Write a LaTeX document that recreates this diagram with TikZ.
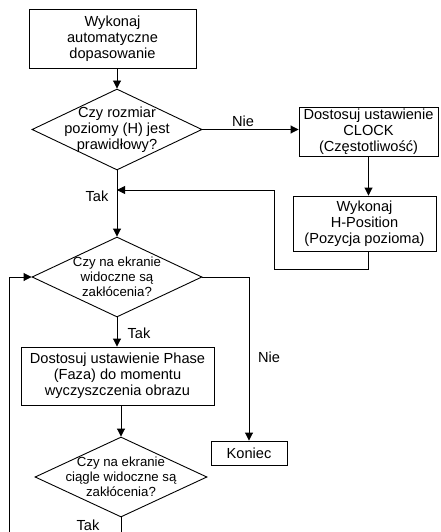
\documentclass[tikz,border=0pt]{standalone}
\usepackage{fontspec}
\setmainfont{Liberation Sans}
\usetikzlibrary{shapes.geometric,arrows.meta}
\begin{document}
\begin{tikzpicture}[x=1pt,y=-1pt,
  line width=0.9pt,
  bigfont/.style={font=\fontsize{14.6}{15.8}\selectfont},
  smallfont/.style={font=\fontsize{13.2}{14.8}\selectfont},
  box/.style={draw, rectangle, inner sep=0pt, align=center, bigfont},
  dia/.style={draw, diamond, inner sep=0pt, minimum width=170pt, minimum height=81pt},
  dtext/.style={align=center, inner sep=0pt},
  lbl/.style={inner sep=0pt, bigfont},
  arr/.style={-{Triangle[length=8pt,width=8pt]}}
]
\useasboundingbox (0,0) rectangle (441,532);
% boxes
\node[box, minimum width=167pt, minimum height=59pt] (b1) at (112.5,38.5) {Wykonaj\\automatyczne\\dopasowanie};
\node[dia] (d1) at (117,129.5) {};
\node[dtext, bigfont] (t1) at (d1.center) {Czy rozmiar\\poziomy (H) jest\\prawidłowy?};
\node[box, minimum width=139pt, minimum height=49pt] (b2) at (368.5,131.5) {Dostosuj ustawienie\\CLOCK\\(Częstotliwość)};
\node[box, minimum width=143pt, minimum height=55pt] (b3) at (364.5,223.5) {Wykonaj\\H-Position\\(Pozycja pozioma)};
\node[dia, minimum height=80pt] (d2) at (117,277) {};
\node[dtext, smallfont] (t2) at (d2.center) {Czy na ekranie\\widoczne są\\zakłócenia?};
\node[box, minimum width=193pt, minimum height=58pt] (b4) at (117.5,376) {Dostosuj ustawienie Phase\\(Faza) do momentu\\wyczyszczenia obrazu};
\node[dia, minimum width=172pt, minimum height=80pt] (d3) at (121,477) {};
\node[dtext, smallfont] (t3) at (d3.center) {Czy na ekranie\\ciągle widoczne są\\zakłócenia?};
\node[box, minimum width=76pt, minimum height=24pt] (kon) at (249,453) {Koniec};
% labels
\node[lbl] (n1) at (243,121) {Nie};
\node[lbl] (k1) at (97,196) {Tak};
\node[lbl] (k2) at (139,333) {Tak};
\node[lbl] (n2) at (269,357) {Nie};
\node[lbl] (k3) at (88,525) {Tak};
% helper coordinates
\coordinate (r1) at (274,269);
\coordinate (tj) at (117,190);
\coordinate (lb) at (9,532);
\coordinate (db) at (121,532);
% connectors
\draw[arr] (b1.south -| d1.north) -- (d1.north);
\draw[arr] (d1.east) -- (b2.west |- d1.east);
\draw[arr] (d1.south) -- (d2.north);
\draw[arr] (b2.south) -- (b2.south |- b3.north);
\draw[arr] (b3.south -| b2.south) |- (r1) |- (tj);
\draw[arr] (d2.south) -- (d2.south |- b4.north);
\draw[arr] (b4.south -| d3.north) -- (d3.north);
\draw[arr] (d2.east) -| (kon.north);
\draw[arr] (lb) |- (d2.west);
\draw (d3.south) -- (db);
\end{tikzpicture}
\end{document}
